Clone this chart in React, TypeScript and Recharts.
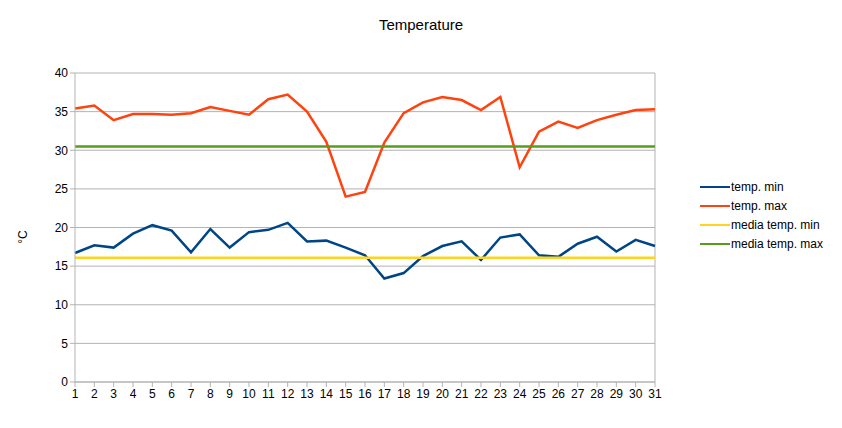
import { LineChart, Line, XAxis, YAxis, CartesianGrid, ReferenceLine } from "recharts";

const days = Array.from({ length: 31 }, (_, i) => i + 1);
const tempMin = [16.7, 17.7, 17.4, 19.2, 20.3, 19.6, 16.8, 19.8, 17.4, 19.4, 19.7, 20.6, 18.2, 18.3, 17.4, 16.4,
  13.4, 14.1, 16.3, 17.6, 18.2, 15.8, 18.7, 19.1, 16.4, 16.2, 17.9, 18.8, 16.9, 18.4, 17.6];
const tempMax = [35.4, 35.8, 33.9, 34.7, 34.7, 34.6, 34.8, 35.6, 35.1, 34.6, 36.6, 37.2, 35.0, 31.1, 24.0, 24.6,
  31.0, 34.8, 36.2, 36.9, 36.5, 35.2, 36.9, 27.8, 32.4, 33.7, 32.9, 33.9, 34.6, 35.2, 35.3];
const mediaMin = 16.1;
const mediaMax = 30.5;
const yTicks = [0, 5, 10, 15, 20, 25, 30, 35, 40];

const series = [
  { key: "min", name: "temp. min", color: "#004586" },
  { key: "max", name: "temp. max", color: "#ff420e" },
  { key: "mMin", name: "media temp. min", color: "#ffd320" },
  { key: "mMax", name: "media temp. max", color: "#579d1c" },
];

const data = days.map((d, i) => ({
  day: d,
  min: tempMin[i],
  max: tempMax[i],
  mMin: mediaMin,
  mMax: mediaMax,
}));

const font = "'Liberation Sans', Arial, sans-serif";

export default function App() {
  return (
    <div style={{ position: "absolute", left: 0, top: 0, width: 842, height: 428, background: "#fff", fontFamily: font }}>
      <div style={{ position: "absolute", top: 16, left: 0, width: 842, textAlign: "center", fontSize: 15, color: "#000" }}>
        Temperature
      </div>
      <div style={{ position: "absolute", left: 13, top: 230, width: 20, fontSize: 12, transform: "rotate(-90deg)", textAlign: "center" }}>
        °C
      </div>
      <div style={{ position: "absolute", left: 700, top: 177, fontSize: 12, color: "#000" }}>
        {series.map((s) => (
          <div key={s.key} style={{ display: "flex", alignItems: "center", height: 19 }}>
            <div style={{ width: 30, height: 2, background: s.color, marginRight: 1 }} />
            <span>{s.name}</span>
          </div>
        ))}
      </div>
      <LineChart width={842} height={428} data={data} margin={{ top: 73, right: 187, bottom: 21, left: 20 }}>
        <CartesianGrid vertical={false} stroke="#b3b3b3" />
        <XAxis
          dataKey="day"
          type="number"
          domain={[1, 31]}
          ticks={days}
          interval={0}
          height={25}
          stroke="#b3b3b3"
          tickSize={5}
          tick={{ fill: "#000", fontSize: 12, fontFamily: font }}
        />
        <YAxis
          domain={[0, 40]}
          ticks={yTicks}
          width={55}
          stroke="#b3b3b3"
          tickSize={5}
          tick={{ fill: "#000", fontSize: 12, fontFamily: font }}
        />
        <ReferenceLine x={31} stroke="#b3b3b3" />
        {series.map((s) => (
          <Line key={s.key} dataKey={s.key} name={s.name} stroke={s.color} strokeWidth={2.5} dot={false} isAnimationActive={false} />
        ))}
      </LineChart>
    </div>
  );
}
